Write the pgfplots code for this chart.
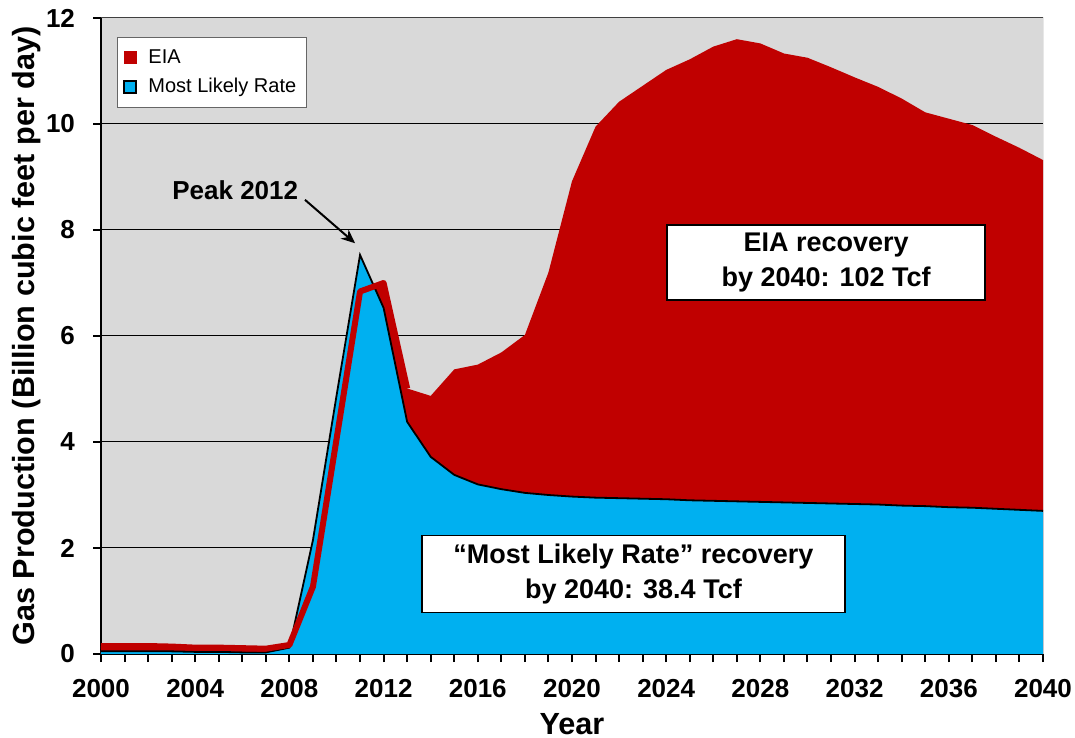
\documentclass[border=0pt]{standalone}
\usepackage{pgfplots}
\pgfplotsset{compat=1.18}
\usepackage{pgfplotstable}
\usepackage{fontspec}
\setmainfont{Liberation Sans}
\usetikzlibrary{arrows.meta}
\definecolor{eiared}{RGB}{192,0,0}
\definecolor{mlblue}{RGB}{0,176,240}
\definecolor{bggray}{RGB}{217,217,217}

% year, EIA rate, most likely rate (Bcf/d)
\pgfplotstableread{
year eia ml
2000 0.15 0.05
2001 0.15 0.05
2002 0.15 0.05
2003 0.14 0.05
2004 0.12 0.04
2005 0.12 0.04
2006 0.11 0.03
2007 0.10 0.03
2008 0.17 0.12
2009 1.27 2.15
2010 4.05 4.87
2011 6.84 7.53
2012 7.00 6.53
2013 5.01 4.38
2014 4.87 3.72
2015 5.37 3.38
2016 5.46 3.20
2017 5.69 3.11
2018 6.02 3.04
2019 7.20 3.00
2020 8.92 2.97
2021 9.95 2.95
2022 10.42 2.94
2023 10.72 2.93
2024 11.02 2.92
2025 11.22 2.90
2026 11.46 2.89
2027 11.60 2.88
2028 11.52 2.87
2029 11.33 2.86
2030 11.25 2.85
2031 11.07 2.84
2032 10.88 2.83
2033 10.70 2.82
2034 10.48 2.80
2035 10.22 2.79
2036 10.10 2.77
2037 9.98 2.76
2038 9.76 2.74
2039 9.55 2.72
2040 9.32 2.70
}\gasdata

\begin{document}
\begin{tikzpicture}
  \begin{axis}[
      width=471pt, height=318pt, scale only axis,
      xmin=2000, xmax=2040, ymin=0, ymax=12,
      axis x line*=bottom, axis y line*=left,
      xtick={2000,2004,...,2040},
      minor xtick={2001,2002,...,2039},
      ytick={0,2,...,12},
      xtick align=outside, ytick align=outside,
      major tick length=4pt, minor tick length=4pt,
      major tick style={black, line width=1pt},
      minor tick style={black, line width=1pt},
      ymajorgrids, grid style={black, line width=0.5pt},
      axis background/.style={fill=bggray},
      axis line style={black, line width=1.3pt, -},
      /pgf/number format/assume math mode=true,
      /pgf/number format/1000 sep={},
      ticklabel style={font=\fontsize{13}{15}\selectfont\bfseries},
      xticklabel style={yshift=-5pt},
      yticklabel style={xshift=-5.5pt},
      xlabel={Year},
      ylabel={Gas Production (Billion cubic feet per day)},
      label style={font=\fontsize{15.3}{18}\selectfont\bfseries},
      xlabel style={at={(axis description cs:0.5,-0.11)}, anchor=center},
      ylabel style={at={(axis description cs:-0.0786,0.5)}, anchor=center},
      legend style={at={(0.017,0.97)}, anchor=north west, draw=black!60,
        fill=white, font=\fontsize{10}{12}\selectfont, row sep=2pt,
        inner xsep=3pt, inner ysep=4pt},
      legend cell align=left,
    ]

    % EIA area
    \addplot[fill=eiared, draw=none, forget plot]
      table[x=year, y=eia] {\gasdata} \closedcycle;
    % Most likely rate area
    \addplot[fill=mlblue, draw=none, forget plot]
      table[x=year, y=ml] {\gasdata} \closedcycle;
    \addplot[black, line width=0.9pt, forget plot]
      table[x=year, y=ml] {\gasdata};
    % thick EIA outline over the early years
    \addplot[eiared, line width=3pt, line join=round, forget plot,
      restrict x to domain=2000:2013]
      table[x=year, y=eia] {\gasdata};

    \addlegendimage{legend image code/.code={
        \fill[eiared] (0pt,-3pt) rectangle (6pt,3pt);
        \path[draw=none] (0pt,-3pt) (10pt,3pt);}}
    \addlegendentry{EIA}
    \addlegendimage{legend image code/.code={
        \draw[fill=mlblue, draw=black, line width=1pt] (0pt,-3pt) rectangle (6pt,3pt);
        \path[draw=none] (0pt,-3pt) (10pt,3pt);}}
    \addlegendentry{Most Likely Rate}

    % thin top and right border of the plot area
    \draw[black!75, line width=0.5pt] (rel axis cs:0,1) -- (rel axis cs:1,1) -- (rel axis cs:1,0);

    \node[font=\fontsize{13}{15}\selectfont\bfseries] at (axis cs:2005.7,8.75) {Peak 2012};
    \draw[-{Stealth[length=7pt,width=6pt]}, line width=1pt]
      (axis cs:2008.66,8.57) -- (axis cs:2010.79,7.75);

    \node[draw=black, fill=white, line width=0.8pt, align=center,
      minimum width=159pt, minimum height=37.5pt,
      font=\fontsize{13.5}{17.5}\selectfont\bfseries]
      at (axis cs:2030.79,7.39) {EIA recovery\\by 2040: 102 Tcf};
    \node[draw=black, fill=white, line width=0.8pt, align=center,
      minimum width=211.5pt, minimum height=38.5pt,
      font=\fontsize{13.5}{17.5}\selectfont\bfseries]
      at (axis cs:2022.61,1.51) {“Most Likely Rate” recovery\\by 2040: 38.4 Tcf};

    \coordinate (ll) at (rel axis cs:0,0);
    \coordinate (ur) at (rel axis cs:1,1);
  \end{axis}
  \pgfresetboundingbox
  \path[use as bounding box] ([xshift=-50.5pt, yshift=-42pt]ll) rectangle ([xshift=16pt, yshift=9pt]ur);
\end{tikzpicture}
\end{document}
